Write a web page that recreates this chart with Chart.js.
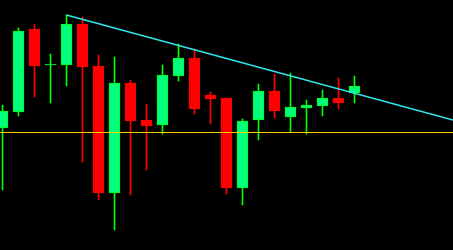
<!DOCTYPE html>
<html lang="en">
<head>
    <meta charset="UTF-8">
    <title>Candles</title>
    <style>
        html, body { margin:0; padding:0; background:#000; }
        #wrap { width:453px; height:250px; position:relative; }
    </style>
</head>
<body>
    <div id="wrap">
        <canvas id="myc"></canvas>
    </div>

    <script src="https://cdn.jsdelivr.net/npm/chart.js"></script>
    <script>
        // candle data (chart units)
        var opens  = [122,138,221,185,185,226,184, 57,167,130,125,174,192,155,152, 62,130,159,133,142,144,152,157];
        var highs  = [145,222,226,196,235,233,195,193,170,146,185,206,201,158,152,131,166,176,177,150,160,172,174];
        var lows   = [ 60,134,153,147,164, 88, 50, 20, 55, 80,116,169,136,126, 56, 45,110,132,118,116,134,141,147];
        var closes = [139,219,184,186,226,183, 57,167,129,124,175,192,141,151, 62,129,159,139,143,145,152,147,164];

        // trendline from candle 4 high to the right edge, and the flat level
        var trendX = [4, 28.15625];
        var trendY = [235, 130];
        var levelY = 117.5;

        var xMin = -0.15625, xMax = 28.15625;

        var wicks = [], bodies = [], wickCol = [], bodyCol = [], bodyBorder = [];
        for (var i = 0; i < opens.length; i++) {
            var up = closes[i] >= opens[i];
            wicks.push({x:i, y:[lows[i], highs[i]]});
            bodies.push({x:i, y:[opens[i], closes[i]]});
            wickCol.push(up ? '#00ff00' : '#ff0000');
            bodyCol.push(up ? '#00ff7f' : '#ff0000');
            bodyBorder.push(up ? '#00ff00' : '#ff0000');
        }

        const ctx = document.getElementById('myc').getContext('2d');
        const myChart = new Chart(ctx, {
            type: 'bar',
            data: {
                datasets: [
                    {
                        type: 'line',
                        data: [{x:trendX[0], y:trendY[0]}, {x:trendX[1], y:trendY[1]}],
                        borderColor: '#30e8ee',
                        borderWidth: 1.4,
                        pointRadius: 0,
                        order: 1
                    },
                    {
                        type: 'line',
                        data: [{x:xMin, y:levelY}, {x:xMax, y:levelY}],
                        borderColor: '#ffd000',
                        borderWidth: 1,
                        pointRadius: 0,
                        order: 2
                    },
                    {
                        data: bodies,
                        backgroundColor: bodyCol,
                        borderColor: bodyBorder,
                        borderWidth: 1,
                        borderSkipped: false,
                        barThickness: 11,
                        grouped: false,
                        order: 3
                    },
                    {
                        data: wicks,
                        backgroundColor: wickCol,
                        borderWidth: 0,
                        barThickness: 1,
                        grouped: false,
                        order: 4
                    }
                ]
            },
            options: {
                responsive: true,
                maintainAspectRatio: false,
                animation: false,
                layout: { padding: 0 },
                plugins: { legend: { display:false }, tooltip: { enabled:false } },
                scales: {
                    x: { type:'linear', min:xMin, max:xMax, offset:false, display:false },
                    y: { min:0, max:250, display:false }
                }
            }
        });
    </script>
</body>
</html>
